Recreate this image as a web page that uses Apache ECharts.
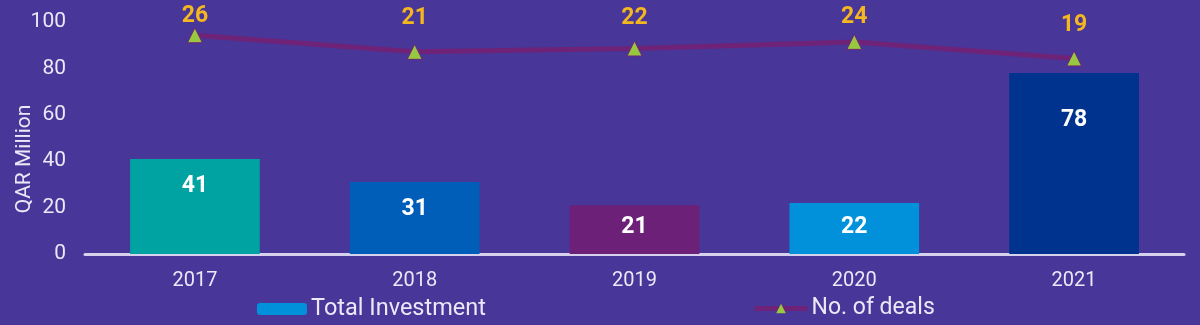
<!DOCTYPE html>
<html>
<head>
<meta charset="utf-8">
<script src="https://cdn.jsdelivr.net/npm/echarts@6/dist/echarts.min.js"></script>
<style>
  html, body { margin: 0; padding: 0; background: #483698; }
  #chart { width: 1200px; height: 325px; }
</style>
</head>
<body>
<div id="chart"></div>
<script>
// Data
const years = ['2017', '2018', '2019', '2020', '2021'];
const totalInvestment = [41, 31, 21, 22, 78];   // QAR Million
const dealCount = [26, 21, 22, 24, 19];          // No. of deals
const yTicks = [0, 20, 40, 60, 80, 100];

// Styling
const barColors = ['#00a3a1', '#005eb8', '#6d2077', '#0091da', '#00338d'];
const barLabelInset = [16, 16, 10, 13, 36];
const dealLabelGap = [0, 14, 11, 5, 14];
const lineColor = '#6e2378';
const textColor = '#ece8f8';
const font = 'Roboto, "Liberation Sans", sans-serif';

const chart = echarts.init(document.getElementById('chart'));

chart.setOption({
  backgroundColor: '#483698',
  animation: false,
  grid: { left: 85, right: 16, top: 22, bottom: 71, outerBoundsMode: 'none' },
  legend: [
    {
      left: 257,
      top: 297,
      padding: 0,
      itemWidth: 50,
      itemHeight: 12,
      itemGap: 6,
      textStyle: { color: textColor, fontSize: 23.5, fontFamily: font, padding: [0, 0, 0, -1] },
      data: ['Total Investment']
    },
    {
      left: 752,
      top: 297,
      padding: 0,
      itemWidth: 53,
      itemHeight: 12,
      textStyle: { color: textColor, fontSize: 23, fontFamily: font, padding: [0, 0, 0, -1] },
      lineStyle: { width: 5, color: lineColor },
      itemStyle: { borderWidth: 0 },
      data: ['No. of deals']
    }
  ],
  xAxis: {
    type: 'category',
    data: years,
    axisLine: { show: true, lineStyle: { color: '#d6d1ec', width: 3 } },
    axisTick: { show: false },
    axisLabel: { color: textColor, fontSize: 20, fontFamily: font, margin: 17 }
  },
  yAxis: [
    {
      type: 'value',
      min: yTicks[0],
      max: yTicks[yTicks.length - 1],
      interval: yTicks[1] - yTicks[0],
      name: 'QAR Million',
      nameLocation: 'middle',
      nameRotate: 90,
      nameGap: 50,
      nameMoveOverlap: false,
      nameTextStyle: { color: textColor, fontSize: 21, fontFamily: font, padding: [0, 42, 0, 0] },
      axisLine: { show: false },
      axisTick: { show: false },
      splitLine: { show: false },
      axisLabel: { color: textColor, fontSize: 21, fontFamily: font, margin: 19 }
    },
    {
      type: 'value',
      min: -40,
      max: 30,
      show: false,
      splitLine: { show: false }
    }
  ],
  series: [
    {
      name: 'Total Investment',
      type: 'bar',
      barWidth: '59%',
      itemStyle: { color: '#0091da' },
      data: totalInvestment.map((v, i) => ({
        value: v,
        itemStyle: { color: barColors[i] },
        label: { distance: barLabelInset[i] }
      })),
      label: {
        show: true,
        position: 'insideTop',
        color: '#ffffff',
        fontSize: 23,
        fontWeight: 'bold',
        fontFamily: font
      },
      z: 2
    },
    {
      name: 'No. of deals',
      type: 'line',
      yAxisIndex: 1,
      data: dealCount.map((v, i) => ({
        value: v,
        label: { distance: dealLabelGap[i] }
      })),
      symbol: 'triangle',
      symbolSize: 15,
      lineStyle: { color: lineColor, width: 5 },
      itemStyle: { color: '#97c83f', borderColor: lineColor, borderWidth: 1 },
      label: {
        show: true,
        position: 'top',
        color: '#f5b720',
        fontSize: 23,
        fontWeight: 'bold',
        fontFamily: font
      },
      z: 3
    }
  ]
});
</script>
</body>
</html>
